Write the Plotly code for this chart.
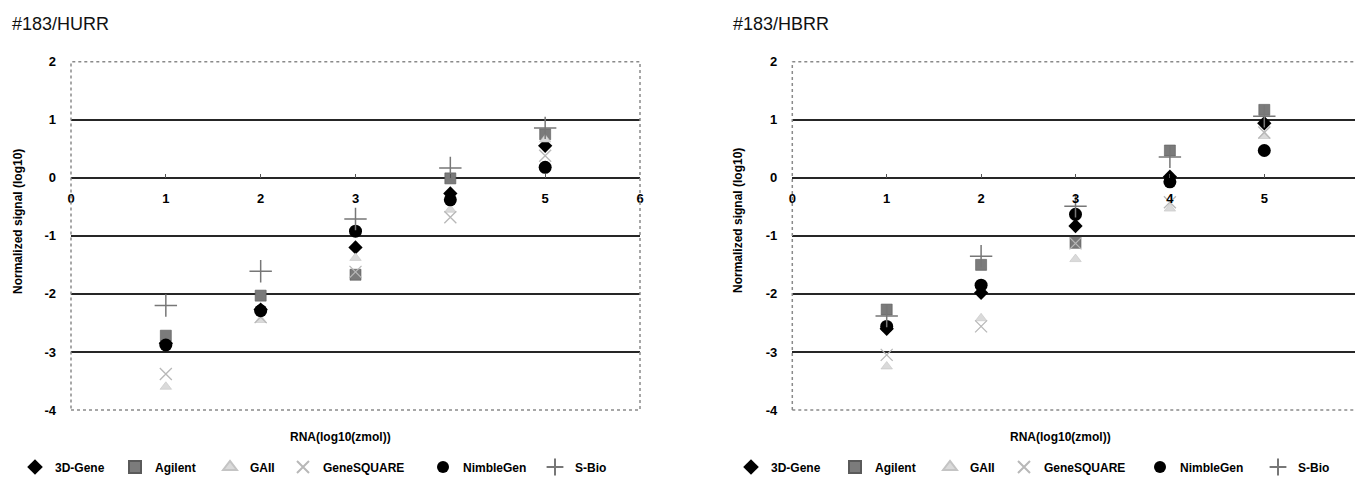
import plotly.graph_objects as go

# ---------------- data ----------------
rna_levels = [1, 2, 3, 4, 5]
platforms = ["3D-Gene", "Agilent", "GAII", "GeneSQUARE", "NimbleGen", "S-Bio"]

hurr_3dgene = [-2.85, -2.27, -1.20, -0.27, 0.55]
hurr_agilent = [-2.72, -2.03, -1.67, -0.01, 0.75]
hurr_gaii = [-3.60, -2.45, -1.38, -0.55, 0.66]
hurr_genesquare = [-3.38, -2.40, -1.62, -0.68, 0.38]
hurr_nimblegen = [-2.88, -2.29, -0.92, -0.38, 0.18]
hurr_sbio = [-2.20, -1.61, -0.71, 0.17, 0.86]

hbrr_3dgene = [-2.60, -1.98, -0.83, 0.02, 0.94]
hbrr_agilent = [-2.27, -1.50, -1.12, 0.47, 1.17]
hbrr_gaii = [-3.25, -2.42, -1.40, -0.53, 0.72]
hbrr_genesquare = [-3.05, -2.56, -1.13, -0.42, 0.78]
hbrr_nimblegen = [-2.56, -1.85, -0.63, -0.07, 0.47]
hbrr_sbio = [-2.38, -1.35, -0.49, 0.36, 1.06]

y_ticks = [-4, -3, -2, -1, 0, 1, 2]
y_tick_labels = ["-4", "-3", "-2", "-1", "0", "1", "2"]
y_grid = [-3, -2, -1, 0, 1]
x_ticks_left = [0, 1, 2, 3, 4, 5, 6]
x_ticks_right = [0, 1, 2, 3, 4, 5]

panel_titles = ["#183/HURR", "#183/HBRR"]
y_title = "Normalized signal (log10)"
x_title = "RNA(log10(zmol))"

# ---------------- styles ----------------
W, H = 1355, 477
FONT = "Liberation Sans, Arial, sans-serif"

styles = {
    "3D-Gene": dict(symbol="diamond", size=11, color="#000000", line=dict(width=0)),
    "Agilent": dict(symbol="square", size=11, color="#7b7b7b", line=dict(width=0.6, color="#5a5a5a")),
    "GAII": dict(symbol="triangle-up", size=10, color="#dadada", line=dict(width=0.6, color="#c4c4c4")),
    "GeneSQUARE": dict(symbol="x-thin-open", size=12, color="#b8b8b8", line=dict(width=1.3, color="#b8b8b8")),
    "NimbleGen": dict(symbol="circle", size=13, color="#000000", line=dict(width=0)),
    "S-Bio": dict(symbol="cross-thin-open", size=16, color="#777777", line=dict(width=1.5, color="#777777")),
}

left_series = [hurr_3dgene, hurr_agilent, hurr_gaii, hurr_genesquare, hurr_nimblegen, hurr_sbio]
right_series = [hbrr_3dgene, hbrr_agilent, hbrr_gaii, hbrr_genesquare, hbrr_nimblegen, hbrr_sbio]

# legend text start positions (px)
legend_left_px = [55, 155, 250, 323, 463, 575]
legend_right_px = [771, 875, 970, 1044, 1180, 1298]

def px_x(p):
    return p / W

def px_y(p):
    return 1 - p / H

fig = go.Figure()

legend_layouts = {}
li = 1
for panel, (series, xa, ya, lpx) in enumerate([
    (left_series, "x", "y", legend_left_px),
    (right_series, "x2", "y2", legend_right_px),
]):
    for name, vals, lx in zip(platforms, series, lpx):
        lname = "legend" if li == 1 else f"legend{li}"
        fig.add_trace(go.Scatter(
            x=rna_levels, y=vals, mode="markers", name=name,
            xaxis=xa, yaxis=ya, marker=styles[name],
            legend=lname, showlegend=True, cliponaxis=False,
        ))
        legend_layouts[lname] = dict(
            x=px_x(lx - 40), xanchor="left", y=px_y(467), yanchor="middle",
            orientation="h", bgcolor="rgba(0,0,0,0)", borderwidth=0,
            font=dict(family=FONT, size=12, color="#000000", weight="bold"),
            itemwidth=30, tracegroupgap=0, itemsizing="constant",
        )
        li += 1

# dummy traces to activate grid overlay axes
fig.add_trace(go.Scatter(x=[], y=[], xaxis="x", yaxis="y3", showlegend=False, hoverinfo="skip"))
fig.add_trace(go.Scatter(x=[], y=[], xaxis="x2", yaxis="y4", showlegend=False, hoverinfo="skip"))

y_dom = [px_y(410), px_y(61.7)]
x_dom_left = [px_x(71), px_x(640)]
x_dom_right = [px_x(792.3), 1.0]
right_max = (W - 792.3) / 94.4

# paper position of data y=0
y0_paper = y_dom[0] + (y_dom[1] - y_dom[0]) * (0 - (-4)) / 6.0

tickfont = dict(family=FONT, size=13, color="#000000", weight="bold")

common_x = dict(
    anchor="free", position=y0_paper, ticks="inside", ticklen=4, tickwidth=1,
    tickcolor="#555555", showgrid=False, zeroline=False, showline=False,
    tickfont=tickfont, ticklabelstandoff=11, automargin=False, fixedrange=True,
)
common_y = dict(
    range=[-4, 2], tickvals=y_ticks, ticktext=y_tick_labels, showgrid=False, zeroline=False,
    showline=False, ticks="", tickfont=tickfont, ticklabelstandoff=14,
    automargin=False, domain=y_dom, fixedrange=True,
)
grid_y = dict(
    range=[-4, 2], tickvals=y_grid, showgrid=True, gridcolor="#262626",
    gridwidth=1.6, zeroline=False, showline=False, showticklabels=False,
    ticks="", automargin=False, domain=y_dom, fixedrange=True,
)

fig.update_layout(
    width=W, height=H,
    margin=dict(l=0, r=0, t=0, b=0, pad=0, autoexpand=False),
    paper_bgcolor="#ffffff", plot_bgcolor="#ffffff",
    font=dict(family=FONT, color="#000000"),
    xaxis=dict(domain=x_dom_left, range=[0, 6], tickvals=x_ticks_left, **common_x),
    xaxis2=dict(domain=x_dom_right, range=[0, right_max], tickvals=x_ticks_right, **common_x),
    yaxis=dict(anchor="x", **common_y),
    yaxis2=dict(anchor="x2", **common_y),
    yaxis3=dict(anchor="x", overlaying="y", **grid_y),
    yaxis4=dict(anchor="x2", overlaying="y2", **grid_y),
    **legend_layouts,
)

# plot-area borders (dotted grey)
border = dict(color="#8a8a8a", width=1.5, dash="dot")
fig.add_shape(type="rect", xref="x domain", yref="y domain", x0=0, x1=1, y0=0, y1=1, line=border)
for (x0, y0, x1, y1) in [(0, 1, 1, 1), (0, 0, 1, 0), (0, 0, 0, 1)]:
    fig.add_shape(type="line", xref="x2 domain", yref="y2 domain",
                  x0=x0, y0=y0, x1=x1, y1=y1, line=border)

# texts
fig.add_annotation(text=panel_titles[0], x=px_x(10), y=px_y(24), xref="paper", yref="paper",
                   xanchor="left", yanchor="middle", showarrow=False,
                   font=dict(family=FONT, size=18, color="#111111"))
fig.add_annotation(text=panel_titles[1], x=px_x(731), y=px_y(24), xref="paper", yref="paper",
                   xanchor="left", yanchor="middle", showarrow=False,
                   font=dict(family=FONT, size=18, color="#111111"))
for xc, yc in [(18, 222), (738, 220)]:
    fig.add_annotation(text=y_title, x=px_x(xc), y=px_y(yc), xref="paper", yref="paper",
                       xanchor="center", yanchor="middle", textangle=-90, showarrow=False,
                       font=dict(family=FONT, size=12, color="#000000", weight="bold"))
for xc in [340, 1060]:
    fig.add_annotation(text=x_title, x=px_x(xc), y=px_y(437), xref="paper", yref="paper",
                       xanchor="center", yanchor="middle", showarrow=False,
                       font=dict(family=FONT, size=12, color="#000000", weight="bold"))

fig.write_html("out.html")
